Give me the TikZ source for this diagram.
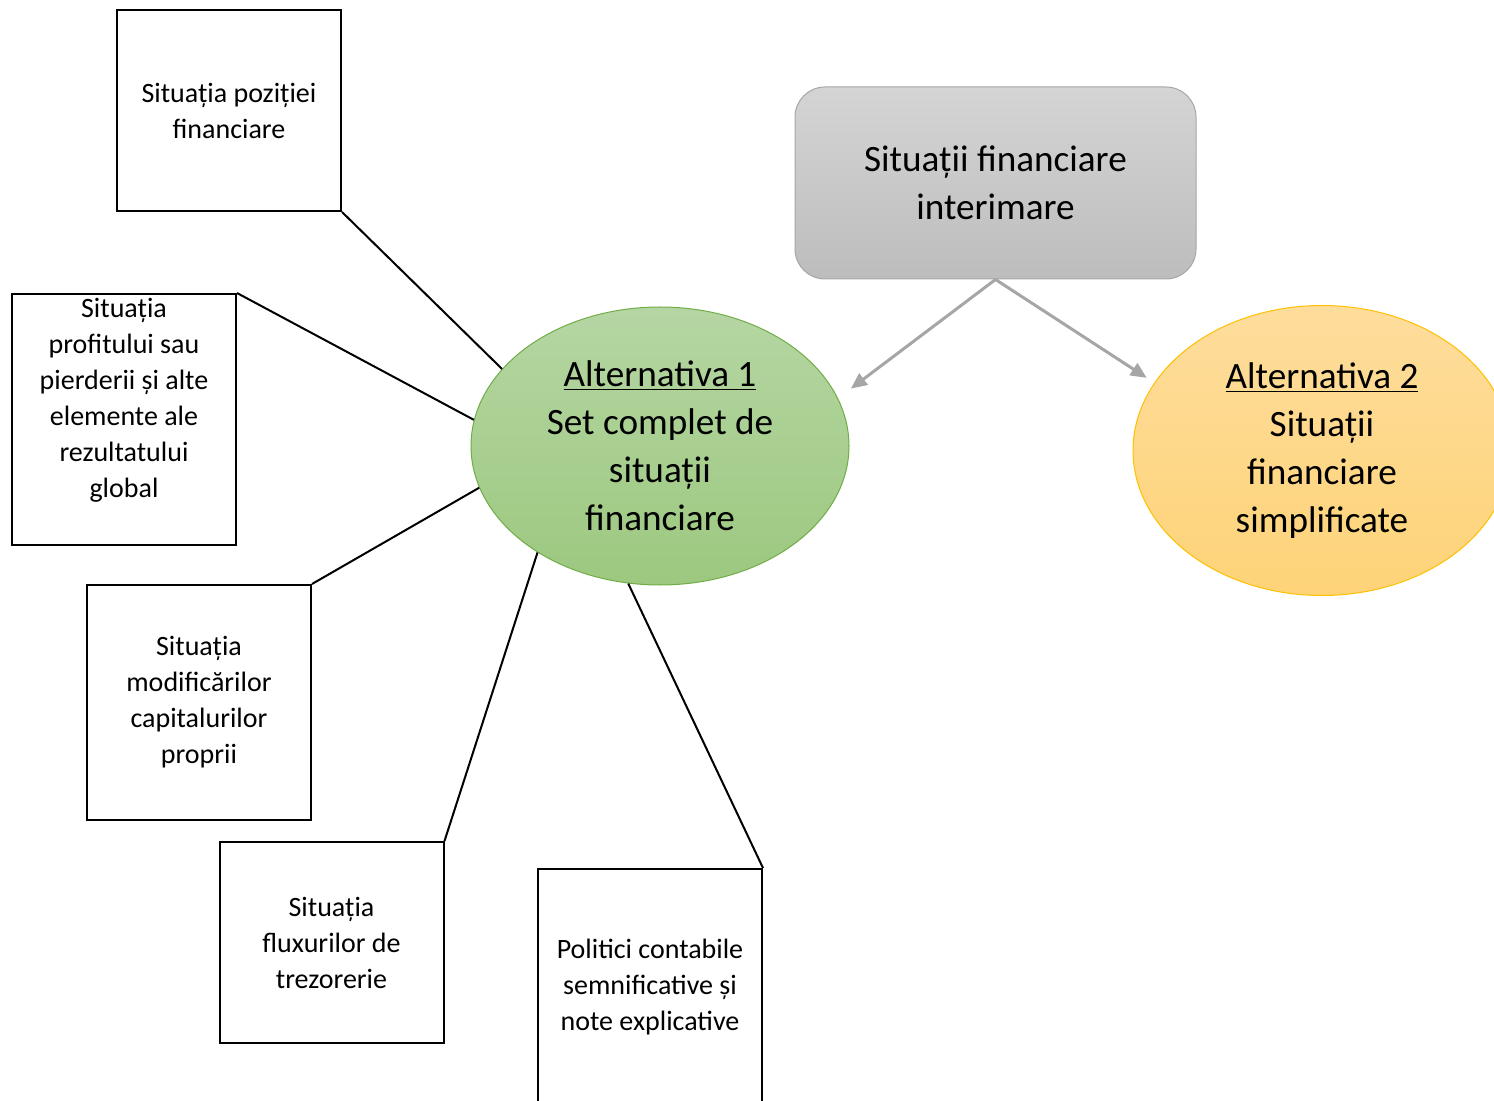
\documentclass[tikz,border=0pt]{standalone}
\usepackage{fontspec}
\setmainfont{Carlito}
\usetikzlibrary{arrows.meta,shapes.geometric}

\definecolor{grtop}{HTML}{B5D6A3}
\definecolor{grbot}{HTML}{9CC87F}
\definecolor{grline}{HTML}{70AD47}
\definecolor{ortop}{HTML}{FEDD9C}
\definecolor{orbot}{HTML}{FED378}
\definecolor{orline}{HTML}{FFC000}
\definecolor{gytop}{HTML}{D4D4D4}
\definecolor{gybot}{HTML}{BDBDBD}
\definecolor{gyline}{HTML}{A6A6A6}

\begin{document}
\begin{tikzpicture}[x=0.5pt,y=-0.5pt]
        \useasboundingbox (0,0) rectangle (1494,1101);

        \begin{scope}[every node/.style={draw,line width=1pt,minimum width=112pt,align=center,font=\fontsize{14}{18}\selectfont}]
          \node[minimum height=100.5pt] (1) at (229,110.5)  {Situația poziției\\financiare};
          \node[minimum height=125.5pt] (2) at (124,419.5)  {};
          \node[minimum height=117.5pt] (3) at (199,702.5)  {Situația\\modificărilor\\capitalurilor\\proprii};
          \node[minimum height=100.5pt] (4) at (331.5,942.5) {Situația\\fluxurilor de\\trezorerie};
          \node[minimum height=118pt]   (5) at (650,987)    {Politici contabile\\semnificative și\\note explicative};
        \end{scope}
        \node[align=center,font=\fontsize{14}{18}\selectfont] (2t) at (124,400)
          {Situația\\profitului sau\\pierderii și alte\\elemente ale\\rezultatului\\global};

        \begin{scope}[every node/.style={align=center,line width=0.5pt,inner sep=0pt,font=\fontsize{18.6}{24}\selectfont}]
          \node[ellipse,draw=grline,top color=grtop,bottom color=grbot,minimum width=189pt,minimum height=139pt]
            (a1) at (660,446) {\underline{Alternativa 1}\\Set complet de\\situații\\financiare};
          \node[ellipse,draw=orline,top color=ortop,bottom color=orbot,minimum width=189pt,minimum height=145pt]
            (a2) at (1322,450.5) {\underline{Alternativa 2}\\Situații\\financiare\\simplificate};
          \node[rectangle,rounded corners=15pt,draw=gyline,top color=gytop,bottom color=gybot,minimum width=200.5pt,minimum height=96pt]
            (si) at (995.5,183) {Situații financiare\\interimare};
        \end{scope}

        \begin{scope}[every edge/.style={draw,line width=1pt}]
          \path (1.south east) edge (a1.154);
          \path (2.north east) edge (a1.172);
          \path (3.north east) edge (a1.193);
          \path (4.north east) edge (a1.221);
          \path (5.north east) edge (a1.257);
        \end{scope}

        \begin{scope}[every edge/.style={draw=gyline,line width=1.5pt,-{Triangle[length=8pt,width=7pt]}}]
          \path (si.south) edge[shorten >=8pt] (a1.15);
          \path (si.south) edge[shorten >=4.5pt] (a2.158);
        \end{scope}

\end{tikzpicture}
\end{document}
